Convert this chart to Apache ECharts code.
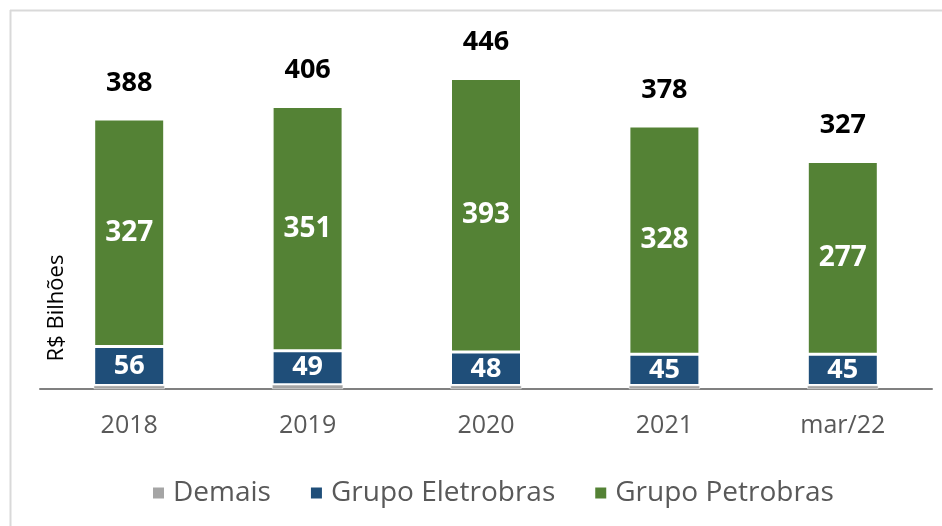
<!DOCTYPE html>
<html>
<head>
<meta charset="utf-8">
<script src="https://cdn.jsdelivr.net/npm/echarts@6/dist/echarts.min.js"></script>
<style>
  html, body { margin: 0; padding: 0; background: #fff; }
  #chartContainer { width: 942px; height: 526px; }
</style>
</head>
<body>
<div id="chartContainer"></div>
<script>
var chartCategories = ['2018', '2019', '2020', '2021', 'mar/22'];
var demaisValues = [5, 6, 5, 5, 5];
var eletrobrasValues = [56, 49, 48, 45, 45];
var petrobrasValues = [327, 351, 393, 328, 277];
var totalValues = [388, 406, 446, 378, 327];

var chartDom = document.getElementById('chartContainer');
var chart = echarts.init(chartDom);
var chartFont = '"Open Sans", "Noto Sans", sans-serif';

var option = {
  backgroundColor: '#fff',
  animation: false,
  textStyle: { fontFamily: chartFont },
  // light frame on top and left, like the original picture
  graphic: [
    { type: 'line', shape: { x1: 10, y1: 10.5, x2: 942, y2: 10.5 }, style: { stroke: '#d9d9d9', lineWidth: 2 } },
    { type: 'line', shape: { x1: 10.5, y1: 10, x2: 10.5, y2: 526 }, style: { stroke: '#d9d9d9', lineWidth: 2 } },
    {
      type: 'text', x: 57, y: 308, rotation: Math.PI / 2,
      style: {
        text: 'R$ Bilhões', fill: '#000', font: '22px ' + chartFont,
        textAlign: 'center', textVerticalAlign: 'middle'
      }
    }
  ],
  legend: {
    data: ['Demais', 'Grupo Eletrobras', 'Grupo Petrobras'],
    bottom: 14,
    left: 146,
    itemWidth: 13,
    itemHeight: 13,
    itemGap: 38,
    icon: 'rect',
    textStyle: { color: '#595959', fontSize: 28, fontFamily: chartFont, padding: [0, 0, 0, 3] }
  },
  grid: {
    left: 40,
    right: 10,
    top: 41,
    bottom: 137,
    containLabel: false
  },
  xAxis: {
    type: 'category',
    data: chartCategories,
    axisTick: { show: false },
    axisLine: { lineStyle: { color: '#808080', width: 2 } },
    axisLabel: { color: '#595959', fontSize: 25, margin: 24, fontFamily: chartFont }
  },
  yAxis: {
    type: 'value',
    min: 0,
    max: 500,
    show: false,
    splitLine: { show: false }
  },
  series: [
    {
      name: 'Demais',
      type: 'bar',
      stack: 'total',
      barWidth: 71,
      data: demaisValues,
      itemStyle: { color: '#a5a5a5', borderColor: '#fff', borderWidth: 0.5 }
    },
    {
      name: 'Grupo Eletrobras',
      type: 'bar',
      stack: 'total',
      data: eletrobrasValues,
      itemStyle: { color: '#1f4e79', borderColor: '#fff', borderWidth: 1.5 },
      label: {
        show: true, position: 'inside', color: '#fff',
        fontSize: 27, fontWeight: 'bold', fontFamily: chartFont
      }
    },
    {
      name: 'Grupo Petrobras',
      type: 'bar',
      stack: 'total',
      data: petrobrasValues,
      itemStyle: { color: '#548235', borderColor: '#fff', borderWidth: 1.5 },
      label: {
        show: true, position: 'inside', color: '#fff',
        fontSize: 28, fontWeight: 'bold', fontFamily: chartFont
      }
    },
    {
      name: 'Total',
      type: 'line',
      data: totalValues,
      symbol: 'circle',
      symbolSize: 1,
      showSymbol: true,
      itemStyle: { color: 'rgba(0,0,0,0)' },
      lineStyle: { opacity: 0 },
      silent: true,
      z: 10,
      label: {
        show: true, position: 'top', distance: 22, color: '#000',
        fontSize: 27, fontWeight: 'bold', fontFamily: chartFont
      }
    }
  ]
};
chart.setOption(option);
</script>
</body>
</html>
